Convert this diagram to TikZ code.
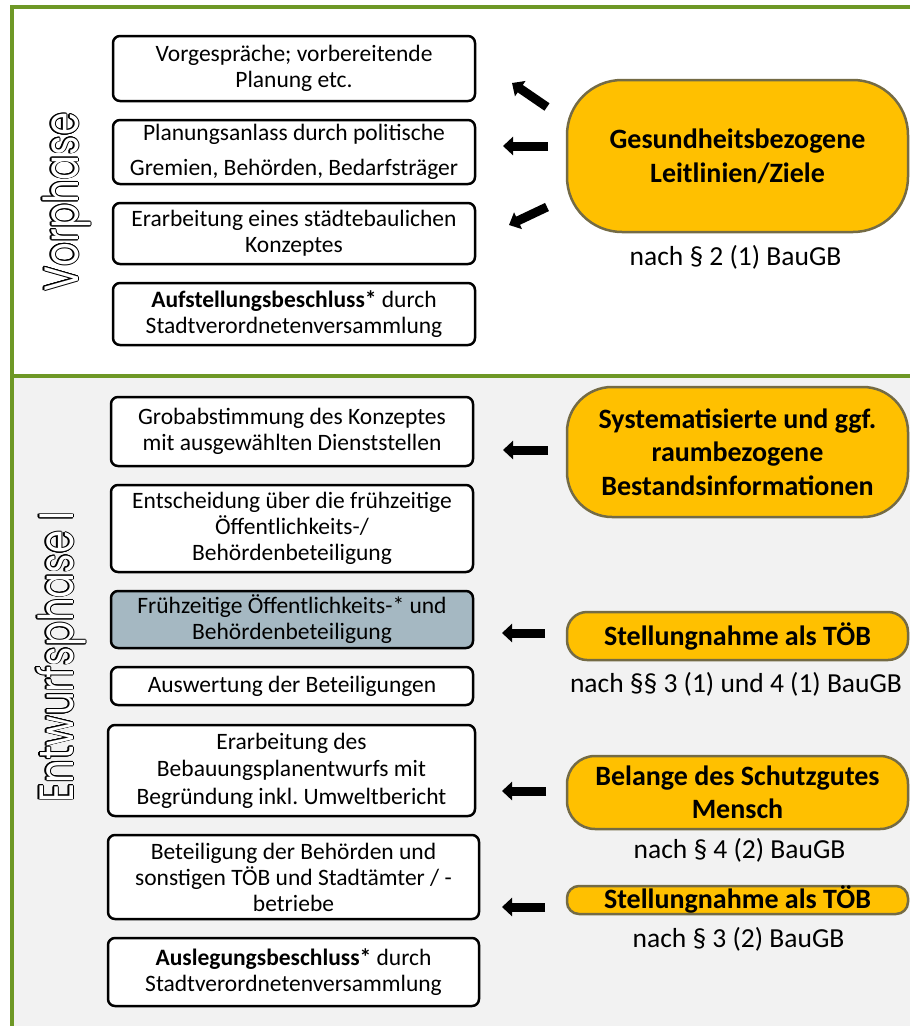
\documentclass[tikz,border=0pt]{standalone}
\usepackage{fontspec}
\setmainfont{Carlito}
\newfontfamily\labelfont{Poppins}
\usepackage[copies]{contour}
\contourlength{0.8pt}
\usetikzlibrary{arrows.meta}
\frenchspacing
\definecolor{phasegreen}{HTML}{6E9826}
\definecolor{orangefill}{HTML}{FFC000}
\definecolor{oborder}{HTML}{746B45}
\definecolor{boxblue}{HTML}{A5B8C2}
\definecolor{panelgray}{HTML}{F2F2F2}
\tikzset{
  stepbox/.style={draw=black, line width=2.5pt, rounded corners=7pt, fill=white,
    align=center, inner sep=0pt, font=\fontsize{23.5}{26}\selectfont},
  goalbox/.style={draw=oborder, line width=2.5pt, fill=orangefill,
    align=center, inner sep=0pt, minimum width=341pt, font=\bfseries\fontsize{28}{34}\selectfont},
  caption/.style={anchor=base, inner sep=0pt, font=\fontsize{27.5}{30}\selectfont},
  blockarrow/.style={line width=9pt, -{Triangle[length=10pt,width=18pt]}},
  phaselabel/.style={rotate=90, anchor=base, inner sep=0pt, font=\labelfont\fontsize{37}{40}\selectfont}
}
\begin{document}
\begin{tikzpicture}[x=1pt,y=-1pt]
\useasboundingbox (0,0) rectangle (910,1026);
\fill[white] (0,0) rectangle (910,1026);
\fill[panelgray] (11.5,375.5) rectangle (925,1035);
\draw[phasegreen, line width=4pt] (11.5,6.5) rectangle (925,375.5);
\draw[phasegreen, line width=4pt] (11.5,375.5) -- (11.5,1035);

% phase labels
\node[phaselabel] (vp) at (78,202) {\scalebox{1}[1.3]{\contour{black}{\textcolor{white}{Vorphase}}}};
\node[phaselabel] (ep) at (73,657) {\scalebox{1}[1.3]{\contour{black}{\textcolor{white}{Entwurfsphase I}}}};

% left column
\node[stepbox, minimum width=362pt, minimum height=65pt] (b1) at (294,68.5) {Vorgespräche; vorbereitende\\Planung etc.};
\node[stepbox, minimum width=362pt, minimum height=64pt, font=\fontsize{23.5}{35}\selectfont] (b2) at (294,152) {Planungsanlass durch politische\\Gremien, Behörden, Bedarfsträger};
\node[stepbox, minimum width=362pt, minimum height=61pt] (b3) at (294,233.5) {Erarbeitung eines städtebaulichen\\Konzeptes};
\node[stepbox, minimum width=362pt, minimum height=62pt] (b4) at (294,314) {\textbf{Aufstellungsbeschluss*} durch\\Stadtverordnetenversammlung};

\node[stepbox, minimum width=362pt, minimum height=69pt] (b5) at (292,431.5) {Grobabstimmung des Konzeptes\\mit ausgewählten Dienststellen};
\node[stepbox, minimum width=362pt, minimum height=87pt] (b6) at (292,528.5) {Entscheidung über die frühzeitige\\Öffentlichkeits-/\\Behördenbeteiligung};
\node[stepbox, fill=boxblue, minimum width=362pt, minimum height=57pt] (b7) at (292,619.5) {Frühzeitige Öffentlichkeits-* und\\Behördenbeteiligung};
\node[stepbox, minimum width=362pt, minimum height=38pt] (b8) at (292,686) {Auswertung der Beteiligungen};
\node[stepbox, minimum width=367pt, minimum height=91pt, font=\fontsize{23.5}{27.5}\selectfont] (b9) at (291.5,770.5) {Erarbeitung des\\Bebauungsplanentwurfs mit\\Begründung inkl. Umweltbericht};
\node[stepbox, minimum width=371pt, minimum height=84pt] (b10) at (293.5,877) {Beteiligung der Behörden und\\sonstigen TÖB und Stadtämter / -\\betriebe};
\node[stepbox, minimum width=371pt, minimum height=68pt] (b11) at (293.5,972) {\textbf{Auslegungsbeschluss*} durch\\Stadtverordnetenversammlung};

% right column
\node[goalbox, minimum height=152pt, rounded corners=55pt] (o1) at (737.5,156) {Gesundheitsbezogene\\Leitlinien/Ziele};
\node[caption] (c1) at (735.5,265) {nach § 2 (1) BauGB};
\node[goalbox, minimum height=130pt, rounded corners=45pt, font=\bfseries\fontsize{28}{33.5}\selectfont] (o2) at (737.5,452) {Systematisierte und ggf.\\raumbezogene\\Bestandsinformationen};
\node[goalbox, minimum height=48pt, rounded corners=20pt] (o3) at (737.5,636) {Stellungnahme als TÖB};
\node[caption] (c3) at (736,692) {nach §§ 3 (1) und 4 (1) BauGB};
\node[goalbox, minimum height=73pt, rounded corners=28pt, font=\bfseries\fontsize{28}{33}\selectfont] (o4) at (737.5,792.5) {Belange des Schutzgutes\\Mensch};
\node[caption] (c4) at (739.5,858) {nach § 4 (2) BauGB};
\node[goalbox, minimum height=28pt, rounded corners=12pt, inner ysep=0pt, text height=17pt, text depth=0pt] (o5) at (737.5,900) {Stellungnahme als TÖB};
\node[caption] (c5) at (738.5,947) {nach § 3 (2) BauGB};

% arrows
\coordinate (a1s) at (547,107); \coordinate (a1e) at (512,83);
\coordinate (a2s) at (548,146); \coordinate (a2e) at (503,146);
\coordinate (a3s) at (547,207); \coordinate (a3e) at (509,225);
\coordinate (a4s) at (548,450); \coordinate (a4e) at (503,450);
\coordinate (a5s) at (545,633); \coordinate (a5e) at (502,633);
\coordinate (a6s) at (546,791); \coordinate (a6e) at (502,791);
\coordinate (a7s) at (545,907); \coordinate (a7e) at (502,907);
\foreach \i in {1,...,7} { \draw[blockarrow] (a\i s) -- (a\i e); }
\end{tikzpicture}
\end{document}
